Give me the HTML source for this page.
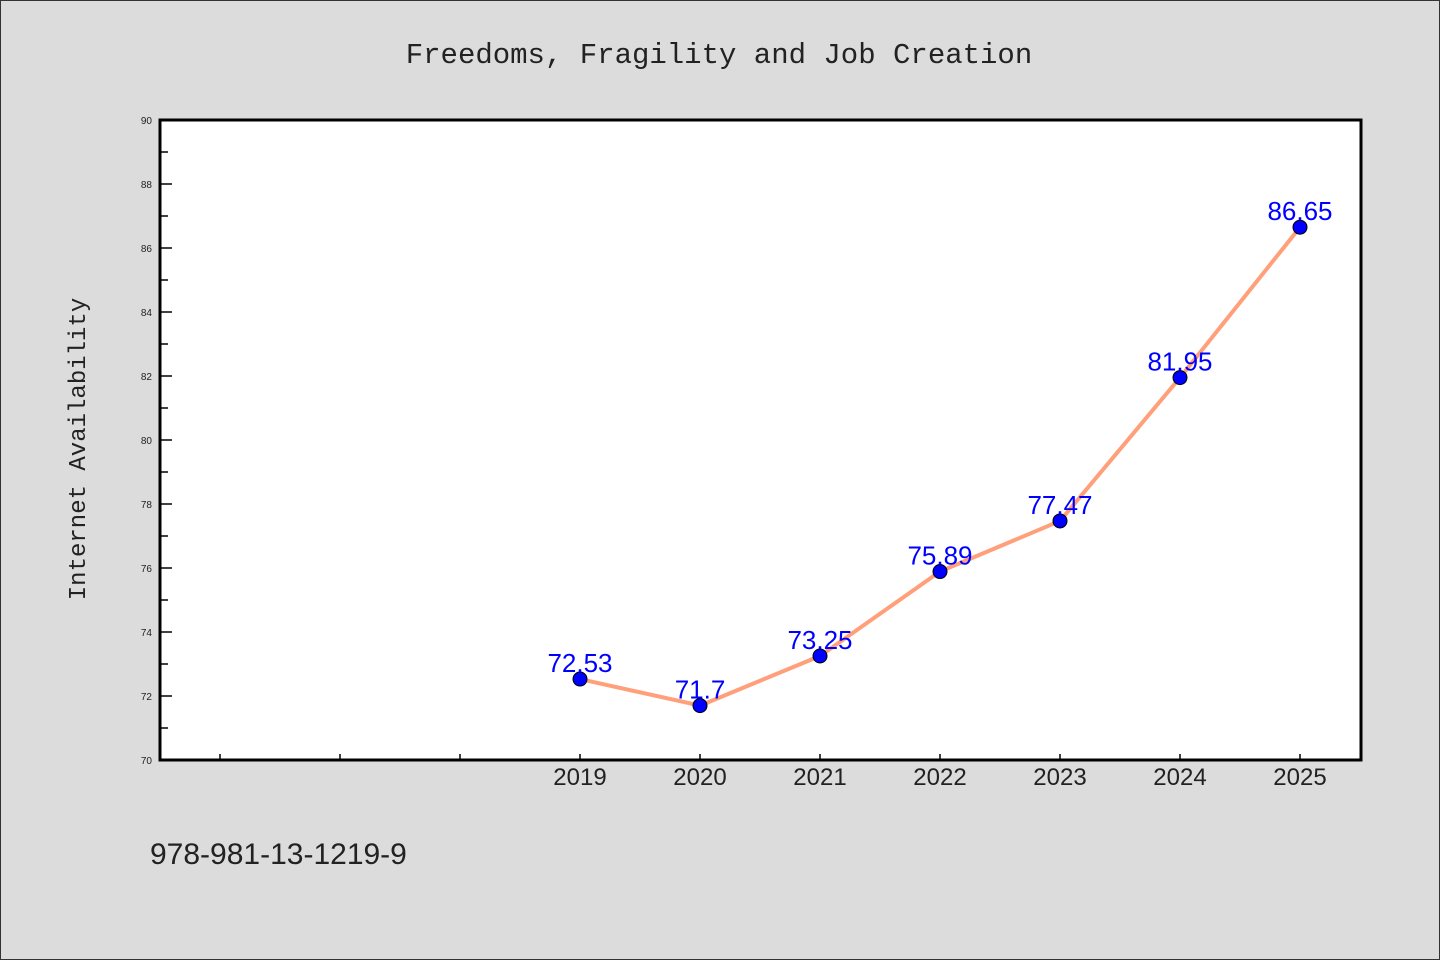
<!DOCTYPE html>
<html><head><meta charset="utf-8"><style>
body{margin:0;background:#dcdcdc;}
svg{display:block;}
</style></head><body>
<svg width="1440" height="960" xmlns="http://www.w3.org/2000/svg">
<rect x="0.5" y="0.5" width="1439" height="959" fill="#dcdcdc" stroke="#333"/>
<text x="719" y="63" text-anchor="middle" font-family="'Liberation Mono','WenQuanYi Zen Hei',monospace" font-size="29" fill="#222">Freedoms, Fragility and Job Creation</text>
<text transform="translate(85,449) rotate(-90)" text-anchor="middle" font-family="'Liberation Mono',monospace" font-size="24" fill="#222">Internet Availability</text>
<text x="150" y="864" font-family="'Liberation Sans','WenQuanYi Zen Hei',sans-serif" font-size="30" fill="#222">978-981-13-1219-9</text>
<rect x="160" y="120" width="1201" height="640" fill="#fff"/>
<g id="axes"></g>
<g id="marks"></g>
<rect x="160" y="120" width="1201" height="640" fill="none" stroke="#000" stroke-width="3"/>
</svg>
<script>
const years=[2019,2020,2021,2022,2023,2024,2025];
const values=[72.53,71.7,73.25,75.89,77.47,81.95,86.65];
const labels=["72.53","71.7","73.25","75.89","77.47","81.95","86.65"];
const yTicks=[70,72,74,76,78,80,82,84,86,88,90];
const xTickYears=[2016,2017,2018,2019,2020,2021,2022,2023,2024,2025];
const NS="http://www.w3.org/2000/svg";
const X=v=>220+(v-2016)*120;
const Y=v=>760-(v-70)*32;
function mk(t,a,p){const e=document.createElementNS(NS,t);for(const k in a)e.setAttribute(k,a[k]);p.appendChild(e);return e;}
const ax=document.getElementById('axes'),mg=document.getElementById('marks');
yTicks.forEach(t=>{
 const l=mk('line',{x1:160,x2:172,y1:Y(t),y2:Y(t),stroke:'#000','stroke-width':1.5},ax);
 
 
 if(t<90){const m=mk('line',{x1:160,x2:168,y1:Y(t+1),y2:Y(t+1),stroke:'#000','stroke-width':1.5},ax);
 
 }
 const tx=mk('text',{x:152,y:Y(t)+4,'text-anchor':'end','font-family':'Liberation Sans,sans-serif','font-size':10,fill:'#222'},ax);
 tx.textContent=t;
 
 
});
xTickYears.forEach(y=>{
 const l=mk('line',{x1:X(y),x2:X(y),y1:760,y2:754,stroke:'#000','stroke-width':1.5},ax);
 
 
});
years.forEach(y=>{
 const tx=mk('text',{x:X(y),y:785,'text-anchor':'middle','font-family':'Liberation Sans,sans-serif','font-size':24,fill:'#222'},ax);
 tx.textContent=y;
 
 
});
const pl=mk('polyline',{points:years.map((y,i)=>X(y)+','+Y(values[i])).join(' '),fill:'none',stroke:'#ffa07a','stroke-width':4,'stroke-linejoin':'round'},mg);


years.forEach((y,i)=>{
 const c=mk('circle',{cx:X(y),cy:Y(values[i]),r:7,fill:'#0000ff',stroke:'#000','stroke-width':1},mg);
 
 
 const t=mk('text',{x:X(y),y:Y(values[i])-7,'text-anchor':'middle','font-family':'Liberation Sans,sans-serif','font-size':26,fill:'#0000ff'},mg);
 t.textContent=labels[i];
 
 
});
</script>
</body></html>
